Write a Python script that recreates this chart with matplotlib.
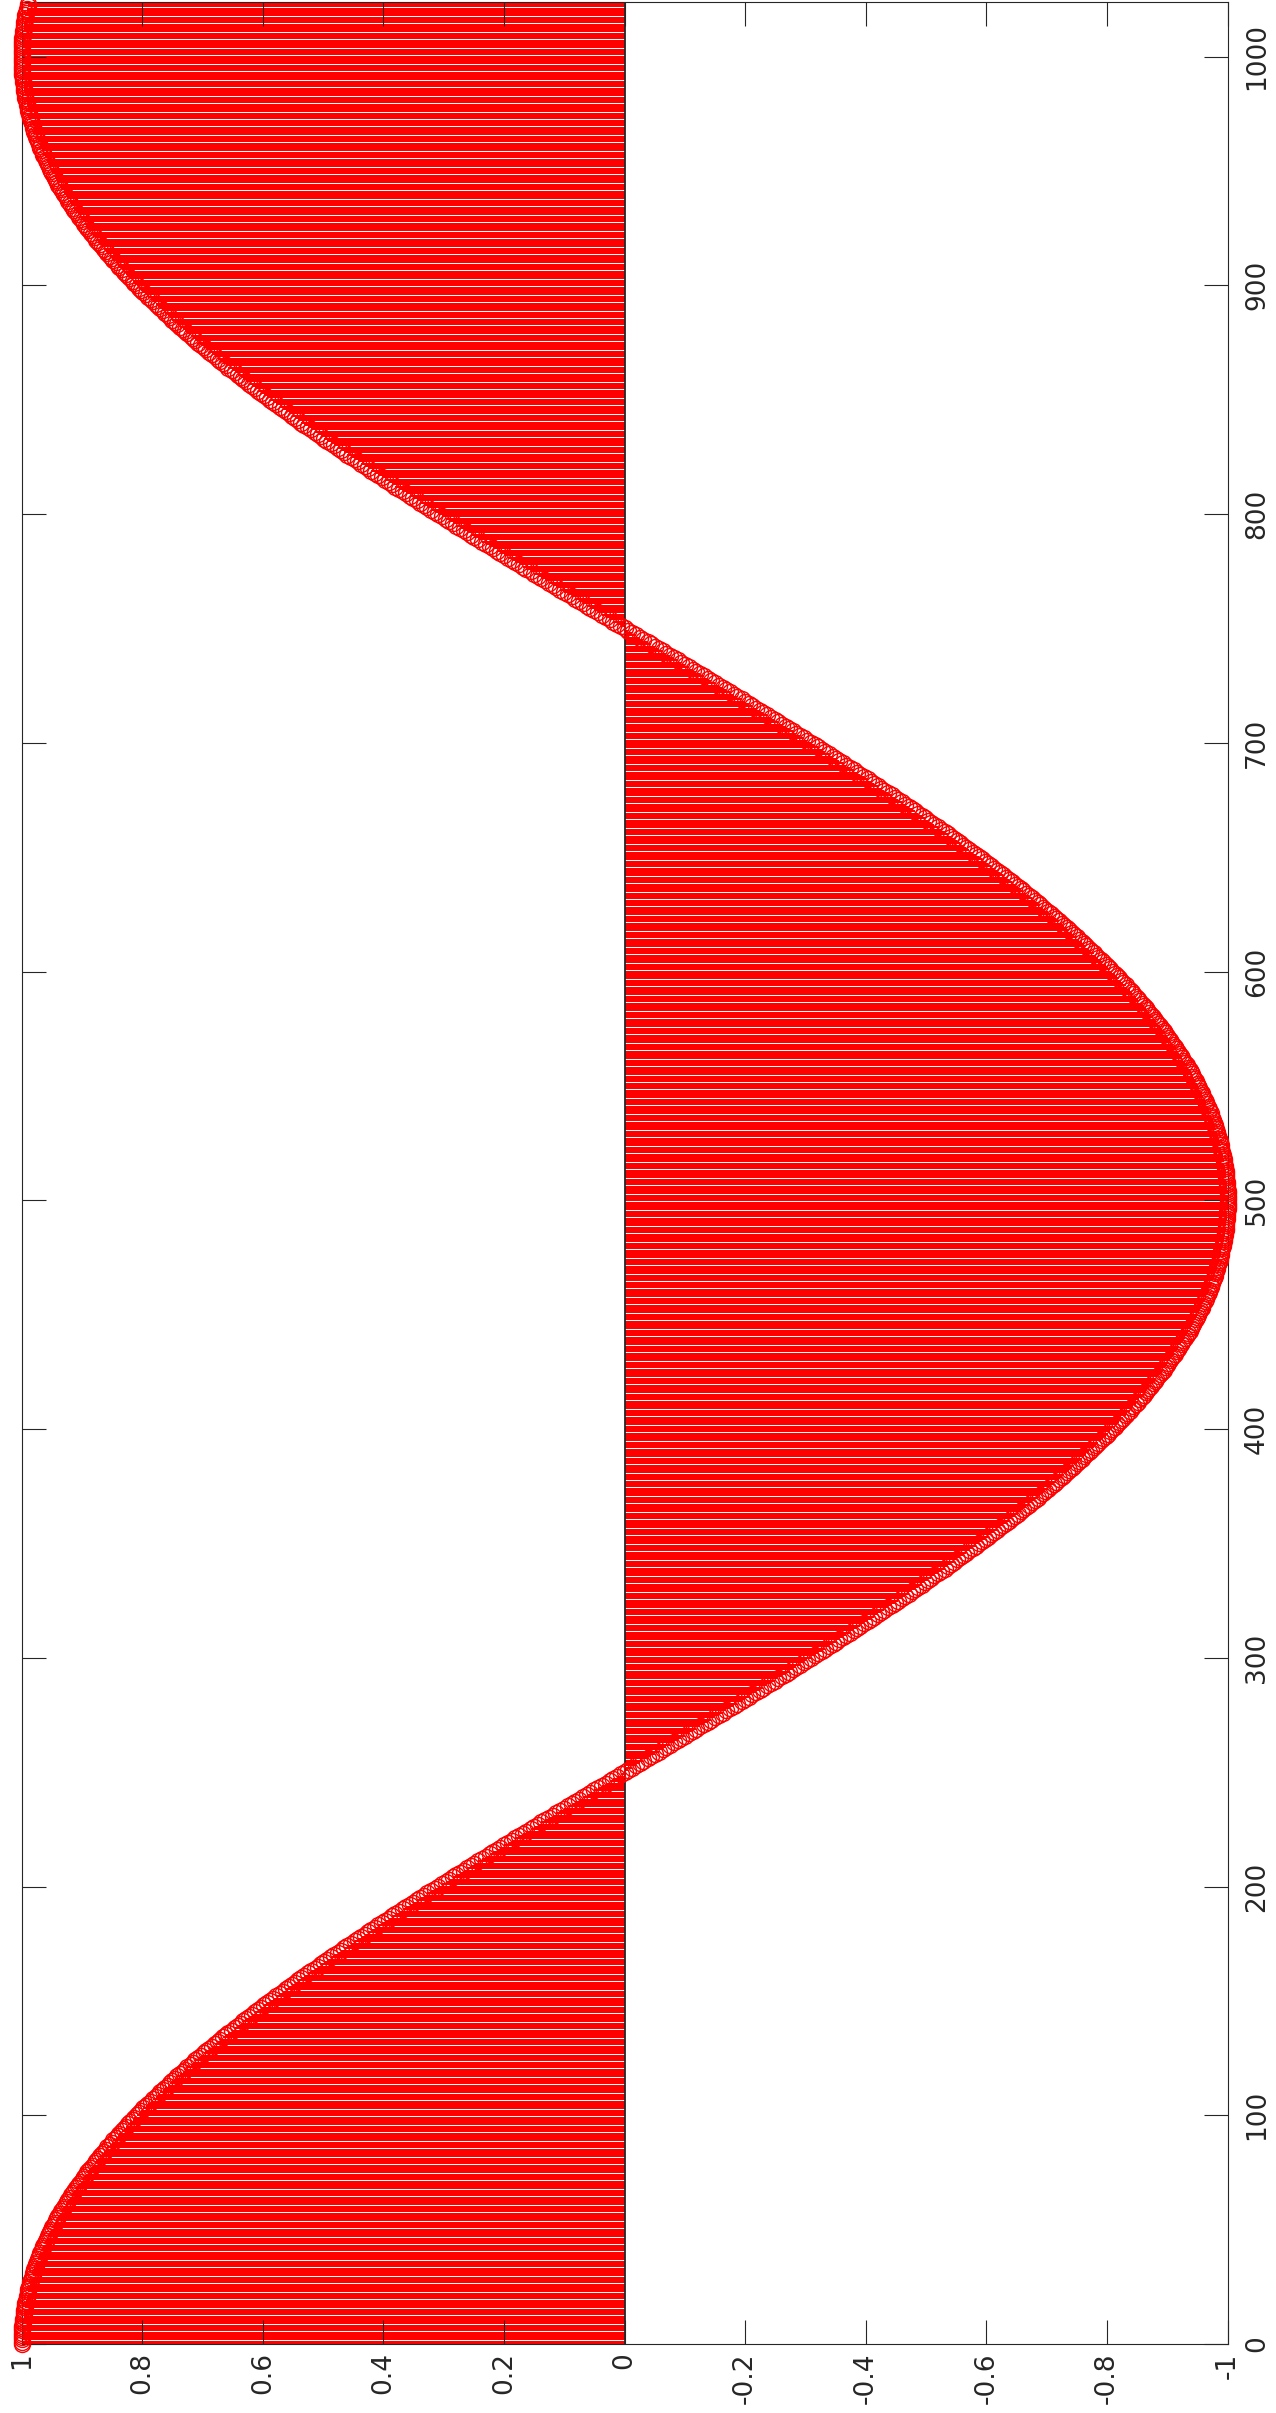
import numpy as np
import matplotlib
matplotlib.use("Agg")
import matplotlib.pyplot as plt

# Stem amplitudes (thousandths), one per sample
amplitude_milli = [
    # samples 0..250
    1000,1000,1000,1000,1000,999,999,999,999,998,998,998,997,997,996,996,995,994,994,993,992,991,990,990,989,988,987,986,985,983,982,981,980,979,977,976,975,973,972,970,969,967,965,964,962,960,958,957,955,953,951,949,947,945,943,941,939,937,934,932,930,927,925,923,920,918,915,913,910,907,905,902,899,897,894,891,888,885,882,879,876,873,870,867,864,861,858,854,851,848,844,841,838,834,831,827,824,820,816,813,809,805,802,798,794,790,786,782,778,774,770,766,762,758,754,750,746,742,737,733,729,725,720,716,712,707,703,698,694,689,685,680,675,671,666,661,657,652,647,642,637,633,628,623,618,613,608,603,598,593,588,583,578,572,567,562,557,552,546,541,536,531,525,520,514,509,504,498,493,487,482,476,471,465,460,454,448,443,437,431,426,420,414,409,403,397,391,386,380,374,368,362,356,351,345,339,333,327,321,315,309,303,297,291,285,279,273,267,261,255,249,243,236,230,224,218,212,206,200,194,187,181,175,169,163,156,150,144,138,132,125,119,113,107,100,94,88,82,75,69,63,57,50,44,38,31,25,19,13,6,0,
    # samples 251..500
    -6,-13,-19,-25,-31,-38,-44,-50,-57,-63,-69,-75,-82,-88,-94,-100,-107,-113,-119,-125,-132,-138,-144,-150,-156,-163,-169,-175,-181,-187,-194,-200,-206,-212,-218,-224,-230,-236,-243,-249,-255,-261,-267,-273,-279,-285,-291,-297,-303,-309,-315,-321,-327,-333,-339,-345,-351,-356,-362,-368,-374,-380,-386,-391,-397,-403,-409,-414,-420,-426,-431,-437,-443,-448,-454,-460,-465,-471,-476,-482,-487,-493,-498,-504,-509,-514,-520,-525,-531,-536,-541,-546,-552,-557,-562,-567,-572,-578,-583,-588,-593,-598,-603,-608,-613,-618,-623,-628,-633,-637,-642,-647,-652,-657,-661,-666,-671,-675,-680,-685,-689,-694,-698,-703,-707,-712,-716,-720,-725,-729,-733,-737,-742,-746,-750,-754,-758,-762,-766,-770,-774,-778,-782,-786,-790,-794,-798,-802,-805,-809,-813,-816,-820,-824,-827,-831,-834,-838,-841,-844,-848,-851,-854,-858,-861,-864,-867,-870,-873,-876,-879,-882,-885,-888,-891,-894,-897,-899,-902,-905,-907,-910,-913,-915,-918,-920,-923,-925,-927,-930,-932,-934,-937,-939,-941,-943,-945,-947,-949,-951,-953,-955,-957,-958,-960,-962,-964,-965,-967,-969,-970,-972,-973,-975,-976,-977,-979,-980,-981,-982,-983,-985,-986,-987,-988,-989,-990,-990,-991,-992,-993,-994,-994,-995,-996,-996,-997,-997,-998,-998,-998,-999,-999,-999,-999,-1000,-1000,-1000,-1000,-1000,
    # samples 501..750
    -1000,-1000,-1000,-1000,-999,-999,-999,-999,-998,-998,-998,-997,-997,-996,-996,-995,-994,-994,-993,-992,-991,-990,-990,-989,-988,-987,-986,-985,-983,-982,-981,-980,-979,-977,-976,-975,-973,-972,-970,-969,-967,-965,-964,-962,-960,-958,-957,-955,-953,-951,-949,-947,-945,-943,-941,-939,-937,-934,-932,-930,-927,-925,-923,-920,-918,-915,-913,-910,-907,-905,-902,-899,-897,-894,-891,-888,-885,-882,-879,-876,-873,-870,-867,-864,-861,-858,-854,-851,-848,-844,-841,-838,-834,-831,-827,-824,-820,-816,-813,-809,-805,-802,-798,-794,-790,-786,-782,-778,-774,-770,-766,-762,-758,-754,-750,-746,-742,-737,-733,-729,-725,-720,-716,-712,-707,-703,-698,-694,-689,-685,-680,-675,-671,-666,-661,-657,-652,-647,-642,-637,-633,-628,-623,-618,-613,-608,-603,-598,-593,-588,-583,-578,-572,-567,-562,-557,-552,-546,-541,-536,-531,-525,-520,-514,-509,-504,-498,-493,-487,-482,-476,-471,-465,-460,-454,-448,-443,-437,-431,-426,-420,-414,-409,-403,-397,-391,-386,-380,-374,-368,-362,-356,-351,-345,-339,-333,-327,-321,-315,-309,-303,-297,-291,-285,-279,-273,-267,-261,-255,-249,-243,-236,-230,-224,-218,-212,-206,-200,-194,-187,-181,-175,-169,-163,-156,-150,-144,-138,-132,-125,-119,-113,-107,-100,-94,-88,-82,-75,-69,-63,-57,-50,-44,-38,-31,-25,-19,-13,-6,0,
    # samples 751..1000
    6,13,19,25,31,38,44,50,57,63,69,75,82,88,94,100,107,113,119,125,132,138,144,150,156,163,169,175,181,187,194,200,206,212,218,224,230,236,243,249,255,261,267,273,279,285,291,297,303,309,315,321,327,333,339,345,351,356,362,368,374,380,386,391,397,403,409,414,420,426,431,437,443,448,454,460,465,471,476,482,487,493,498,504,509,514,520,525,531,536,541,546,552,557,562,567,572,578,583,588,593,598,603,608,613,618,623,628,633,637,642,647,652,657,661,666,671,675,680,685,689,694,698,703,707,712,716,720,725,729,733,737,742,746,750,754,758,762,766,770,774,778,782,786,790,794,798,802,805,809,813,816,820,824,827,831,834,838,841,844,848,851,854,858,861,864,867,870,873,876,879,882,885,888,891,894,897,899,902,905,907,910,913,915,918,920,923,925,927,930,932,934,937,939,941,943,945,947,949,951,953,955,957,958,960,962,964,965,967,969,970,972,973,975,976,977,979,980,981,982,983,985,986,987,988,989,990,990,991,992,993,994,994,995,996,996,997,997,998,998,998,999,999,999,999,1000,1000,1000,1000,1000,
    # samples 1001..1023
    1000,1000,1000,1000,999,999,999,999,998,998,998,997,997,996,996,995,994,994,993,992,991,990,990,
]
amplitude = np.array(amplitude_milli, dtype=float) / 1000.0
sample_index = np.arange(len(amplitude))

value_ticks = [1.0, 0.8, 0.6, 0.4, 0.2, 0.0, -0.2, -0.4, -0.6, -0.8, -1.0]
value_tick_labels = ["1", "0.8", "0.6", "0.4", "0.2", "0", "-0.2", "-0.4", "-0.6", "-0.8", "-1"]
index_ticks = [0, 100, 200, 300, 400, 500, 600, 700, 800, 900, 1000]
index_tick_labels = ["0", "100", "200", "300", "400", "500", "600", "700", "800", "900", "1000"]

W, H = 1276, 2413
fig = plt.figure(figsize=(W / 100, H / 100), dpi=100)
left_px, right_px, top_px, bottom_px = 21.7, 1227.5, 1.7, 2344.0
ax = fig.add_axes([left_px / W, (H - bottom_px) / H,
                   (right_px - left_px) / W, (bottom_px - top_px) / H])

ax.hlines(sample_index, 0, amplitude, colors="#ff0000", linewidth=1.44,
          antialiased=False, zorder=2)
ax.axvline(0, color="#262626", linewidth=1.3, zorder=2.6)
ax.plot(amplitude, sample_index, linestyle="none", marker="o", markersize=11.5,
        markerfacecolor="none", markeredgecolor="#ff0000", markeredgewidth=1.0,
        zorder=3, clip_on=False)

ax.set_xlim(1, -1)
ax.set_ylim(0, 1024)
ax.set_axisbelow(False)

ax.set_xticks(value_ticks)
ax.set_xticklabels(value_tick_labels, rotation=90)
ax.set_yticks(index_ticks)
ax.set_yticklabels(index_tick_labels, rotation=90, va="center")

ax.tick_params(axis="both", direction="in", length=17.3, width=0.8,
               color="#262626", labelcolor="#262626", labelsize=19)
ax.tick_params(axis="x", top=True, bottom=True, labelbottom=True, labeltop=False, pad=6)
ax.tick_params(axis="y", left=True, right=True, labelleft=False, labelright=True, pad=12)
for s in ax.spines.values():
    s.set_color("#262626")
    s.set_linewidth(0.8)
    s.set_zorder(2.5)

fig.savefig("out.png", dpi=100)
